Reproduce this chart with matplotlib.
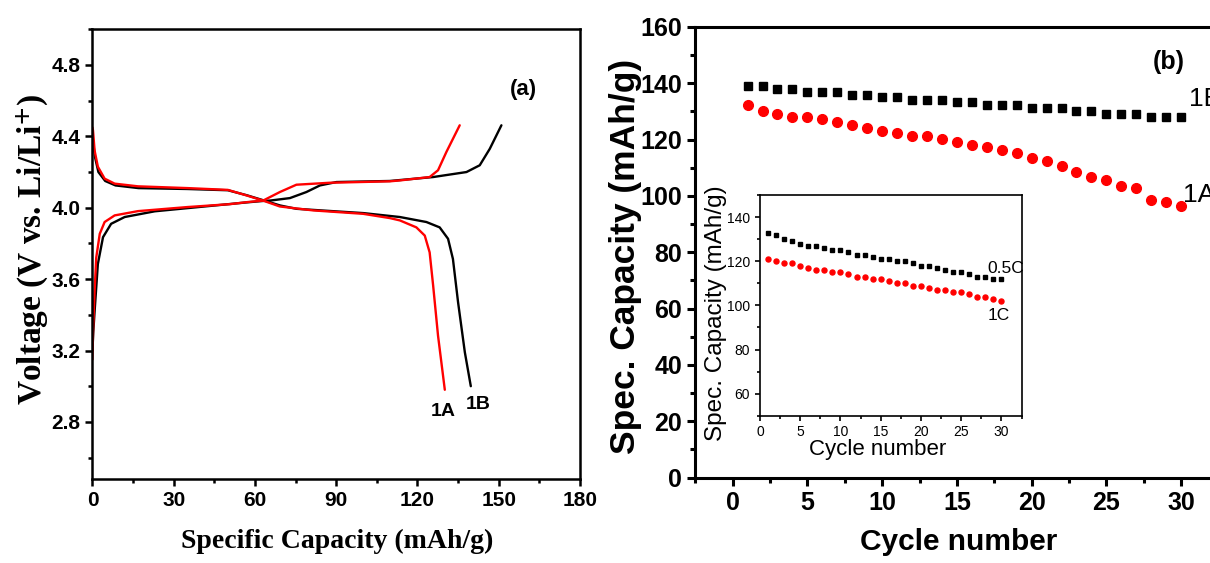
import matplotlib
matplotlib.use('Agg')
import matplotlib.pyplot as plt
from matplotlib.ticker import MultipleLocator

plt.rcParams['font.family'] = ['Liberation Sans', 'DejaVu Sans']
plt.rcParams['mathtext.fontset'] = 'stix'

# ── (a) charge / discharge profiles ──────────────────────────────────────────
cap_1b_chg = [0.0, 0.3, 0.8, 2.0, 3.9, 6.9, 11.9, 23.0, 40.0, 57.0, 63.0, 65.5,
              72.9, 79.0, 84.0, 90.1, 109.8, 125.8, 138.1, 143.0, 146.7, 151.0]
v_1b_chg = [3.20, 3.30, 3.42, 3.685, 3.835, 3.91, 3.948, 3.98, 4.005, 4.03, 4.038, 4.040,
            4.054, 4.088, 4.125, 4.144, 4.15, 4.172, 4.20, 4.238, 4.33, 4.462]

cap_1a_chg = [0.0, 0.2, 0.8, 1.4, 2.7, 4.5, 8.2, 16.8, 35.2, 50.7, 57.4, 63.0,
              69.2, 75.3, 87.6, 109.8, 113.5, 124.5, 127.6, 130.7, 135.6]
v_1a_chg = [3.15, 3.30, 3.535, 3.72, 3.854, 3.92, 3.957, 3.981, 4.004, 4.02, 4.032, 4.04,
            4.088, 4.129, 4.14, 4.148, 4.153, 4.172, 4.21, 4.313, 4.462]

cap_1b_dis = [0.0, 0.3, 1.0, 2.2, 4.7, 8.5, 17.0, 35.0, 50.0, 57.0, 63.5, 69.2,
              75.3, 87.6, 100.0, 113.5, 123.3, 128.2, 131.3, 133.1, 135.0, 137.5, 139.7]
v_1b_dis = [4.40, 4.36, 4.28, 4.20, 4.15, 4.125, 4.11, 4.105, 4.098, 4.07, 4.04, 4.013,
            3.994, 3.982, 3.97, 3.948, 3.92, 3.89, 3.826, 3.713, 3.47, 3.19, 3.00]

cap_1a_dis = [0.0, 0.2, 0.8, 2.0, 4.5, 8.2, 16.8, 35.2, 50.0, 56.9, 63.0, 69.2,
              81.5, 99.9, 109.8, 113.5, 119.6, 122.7, 124.5, 125.8, 127.6, 130.1]
v_1a_dis = [4.45, 4.434, 4.32, 4.23, 4.163, 4.135, 4.12, 4.11, 4.10, 4.069, 4.04, 4.007,
            3.985, 3.966, 3.942, 3.929, 3.89, 3.844, 3.75, 3.563, 3.283, 2.98]

# ── (b) cycling ──────────────────────────────────────────────────────────────
cycles = list(range(1, 31))
cap_1b = [139.2, 139.0, 138.0, 138.0, 137.0, 137.0, 137.0, 136.0, 136.0, 135.2,
          135.2, 134.2, 134.2, 134.2, 133.2, 133.2, 132.3, 132.3, 132.3, 131.3,
          131.3, 131.3, 130.0, 130.0, 129.2, 129.2, 129.2, 128.2, 128.2, 128.2]
cap_1a = [132.3, 130.1, 129.2, 128.2, 128.2, 127.2, 126.2, 125.2, 124.2, 123.2,
          122.2, 121.3, 121.3, 120.3, 119.1, 118.1, 117.5, 116.2, 115.3, 113.4,
          112.4, 110.5, 108.5, 106.6, 105.6, 103.7, 102.7, 98.7, 97.7, 96.6]

# inset: rate comparison
cap_05c = [133, 132, 130, 129, 128, 127, 127, 126, 125, 125, 124, 123, 123, 122, 121,
           121, 120, 120, 119, 118, 118, 117, 116, 115, 115, 114, 113, 113, 112, 112]
cap_1c = [121, 120, 119, 119, 118, 117, 116, 116, 115, 115, 114, 113, 113, 112, 112,
          111, 110, 110, 109, 109, 108, 107, 107, 106, 106, 105, 104, 104, 103, 102]

RED = '#ff0000'

fig = plt.figure(figsize=(12.1, 5.63), dpi=100)


def style_axes(ax, spine_w, major_len, minor_len):
    for s in ax.spines.values():
        s.set_linewidth(spine_w)
    ax.tick_params(which='both', direction='out', top=False, right=False,
                   width=spine_w)
    ax.tick_params(which='major', length=major_len)
    ax.tick_params(which='minor', length=minor_len)


# ── Panel (a) ────────────────────────────────────────────────────────────────
axa = fig.add_axes([0.0764, 0.1492, 0.4029, 0.7988])
line_kw = dict(lw=1.7, solid_joinstyle='round', solid_capstyle='round')
axa.plot(cap_1b_chg, v_1b_chg, color='black', **line_kw)
axa.plot(cap_1b_dis, v_1b_dis, color='black', **line_kw)
axa.plot(cap_1a_chg, v_1a_chg, color=RED, **line_kw)
axa.plot(cap_1a_dis, v_1a_dis, color=RED, **line_kw)
axa.set_xlim(0, 180)
axa.set_ylim(2.48, 5.0)
axa.xaxis.set_major_locator(MultipleLocator(30))
axa.xaxis.set_minor_locator(MultipleLocator(15))
axa.set_yticks([2.8, 3.2, 3.6, 4.0, 4.4, 4.8])
axa.yaxis.set_minor_locator(MultipleLocator(0.2))
style_axes(axa, 1.8, 5, 3)
for lab in axa.get_xticklabels() + axa.get_yticklabels():
    lab.set_fontsize(15)
    lab.set_fontweight('bold')
axa.set_xlabel('Specific Capacity (mAh/g)', family='Liberation Serif',
               fontsize=20, fontweight='bold', va='top')
axa.xaxis.set_label_coords(0.5015, -0.11)
axa.set_ylabel(r'Voltage (V vs. Li/Li$^{\mathbf{+}}$)', family='Liberation Serif',
               fontsize=24, fontweight='bold')
axa.yaxis.set_label_coords(-0.088, 0.51)
axa.text(159, 4.66, '(a)', fontsize=16, fontweight='bold', ha='center', va='center')
axa.text(129.7, 2.86, '1A', fontsize=14, fontweight='bold', ha='center', va='center')
axa.text(142.3, 2.90, '1B', fontsize=14, fontweight='bold', ha='center', va='center')

# ── Panel (b) ────────────────────────────────────────────────────────────────
axb = fig.add_axes([0.5746, 0.1517, 0.4633, 0.8004])
axb.plot(cycles, cap_1b, ls='none', marker='s', ms=6.0, color='black')
axb.plot(cycles, cap_1a, ls='none', marker='o', ms=7.0, color=RED, mec=RED)
axb.set_xlim(-2.5, 35)
axb.set_ylim(0, 160)
axb.set_xticks([0, 5, 10, 15, 20, 25, 30])
axb.xaxis.set_minor_locator(MultipleLocator(2.5))
axb.yaxis.set_major_locator(MultipleLocator(20))
axb.yaxis.set_minor_locator(MultipleLocator(10))
style_axes(axb, 2.2, 6, 3.5)
for lab in axb.get_xticklabels() + axb.get_yticklabels():
    lab.set_fontsize(18)
    lab.set_fontweight('bold')
axb.set_xlabel('Cycle number', fontsize=21.5, fontweight='bold', va='top')
axb.xaxis.set_label_coords(0.470, -0.112)
axb.set_ylabel('Spec. Capacity (mAh/g)', fontsize=25.5, fontweight='bold')
axb.yaxis.set_label_coords(-0.095, 0.49)
axb.text(29.2, 147.5, '(b)', fontsize=18, fontweight='bold', ha='center', va='center')
axb.text(30.5, 134.6, '1B', fontsize=19, ha='left', va='center')
axb.text(30.1, 100.5, '1A', fontsize=19, ha='left', va='center')

# ── Inset ────────────────────────────────────────────────────────────────────
axi = fig.add_axes([0.628, 0.2616, 0.2163, 0.392])
axi.plot(cycles, cap_05c, ls='none', marker='s', ms=3.2, color='black')
axi.plot(cycles, cap_1c, ls='none', marker='o', ms=3.6, color=RED, mec=RED)
axi.set_xlim(0, 32.5)
axi.set_ylim(50, 150)
axi.xaxis.set_major_locator(MultipleLocator(5))
axi.xaxis.set_minor_locator(MultipleLocator(2.5))
axi.set_yticks([60, 80, 100, 120, 140])
axi.yaxis.set_minor_locator(MultipleLocator(10))
style_axes(axi, 1.2, 3.5, 2)
axi.tick_params(labelsize=10)
axi.set_xlabel('Cycle number', fontsize=16, va='top')
axi.xaxis.set_label_coords(0.449, -0.105)
axi.set_ylabel('Spec. Capacity (mAh/g)', fontsize=17.5)
axi.yaxis.set_label_coords(-0.125, 0.463)
axi.text(28.2, 116.9, '0.5C', fontsize=12.5, ha='left', va='center')
axi.text(28.3, 95.6, '1C', fontsize=12.5, ha='left', va='center')

fig.savefig('out.png', dpi=100, facecolor='white')
